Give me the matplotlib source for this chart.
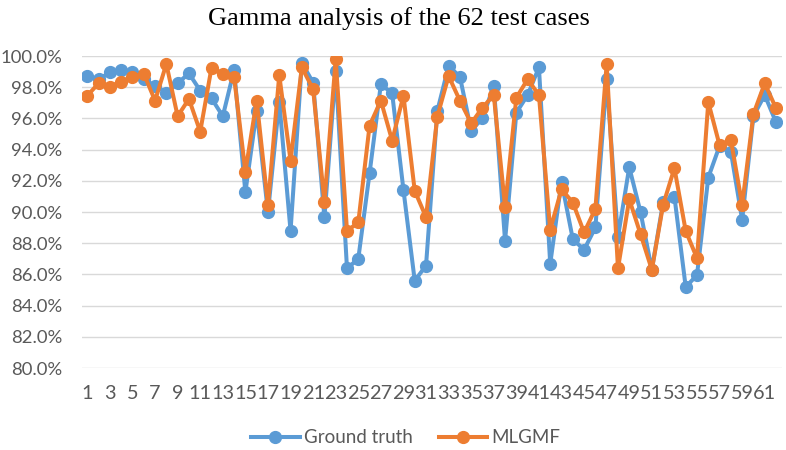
import matplotlib
matplotlib.use("Agg")
import matplotlib.pyplot as plt
from matplotlib.ticker import FuncFormatter

# gamma passing rates (%)
cases = list(range(1, 63))
ground_truth = [
    98.7, 98.5, 98.95, 99.08, 98.98, 98.5, 98.08, 97.65, 98.25, 98.89,
    97.78, 97.29, 96.14, 99.1, 91.27, 96.48, 89.97, 97.08, 88.79, 99.57,
    98.29, 89.65, 99.06, 86.38, 87.0, 92.49, 98.19, 97.61, 91.42, 85.59,
    86.57, 96.48, 99.36, 98.68, 95.22, 96.01, 98.1, 88.15, 96.37, 97.5,
    99.27, 86.68, 91.95, 88.26, 87.58, 89.01, 98.51, 88.39, 92.87, 89.99,
    86.3, 90.63, 90.99, 85.19, 85.96, 92.21, 94.24, 93.87, 89.5, 96.16,
    97.5, 95.75,
]
mlgmf = [
    97.46, 98.25, 98.04, 98.36, 98.66, 98.87, 97.14, 99.49, 96.14, 97.25,
    95.15, 99.25, 98.87, 98.66, 92.59, 97.14, 90.46, 98.78, 93.3, 99.27,
    97.87, 90.65, 99.79, 88.79, 89.33, 95.54, 97.14, 94.58, 97.46, 91.36,
    89.67, 96.12, 98.72, 97.14, 95.69, 96.69, 97.5, 90.35, 97.33, 98.51,
    97.5, 88.86, 91.46, 90.61, 88.69, 90.2, 99.49, 86.38, 90.82, 88.58,
    86.3, 90.46, 92.81, 88.79, 87.04, 97.05, 94.28, 94.62, 90.46, 96.29,
    98.25, 96.65,
]
series_names = ["Ground truth", "MLGMF"]
title = "Gamma analysis of the 62 test cases"

blue = "#5B9BD5"
orange = "#ED7D31"
grey_text = "#595959"

plt.rcParams["font.family"] = ["Lato", "DejaVu Sans"]

fig = plt.figure(figsize=(7.86, 4.5), dpi=100)
ax = fig.add_axes([0.1039, 0.1822, 0.8906, 0.6933])

ax.plot(cases, ground_truth, color=blue, lw=2.9, marker="o", ms=8.5,
        label=series_names[0], zorder=3)
ax.plot(cases, mlgmf, color=orange, lw=2.9, marker="o", ms=8.5,
        label=series_names[1], zorder=4)

ax.set_xlim(0.5, 62.5)
ax.set_ylim(80, 100)
ax.set_yticks(range(80, 101, 2))
ax.yaxis.set_major_formatter(FuncFormatter(lambda v, p: f"{v:.1f}%"))
ax.set_xticks(cases[::2])
ax.set_xticklabels([str(c) for c in cases[::2]])

ax.grid(axis="y", color="#D9D9D9", lw=1)
ax.set_axisbelow(True)
for s in ax.spines.values():
    s.set_visible(False)
ax.tick_params(axis="both", length=0, colors=grey_text)
ax.tick_params(axis="y", pad=14, labelsize=13.3)
ax.tick_params(axis="x", pad=12, labelsize=14.3)

fig.text(0.508, 0.985, title, ha="center", va="top",
         family="Liberation Serif", fontsize=19, color="black")

fig.legend(loc="center", bbox_to_anchor=(0.516, 0.027), ncol=2, frameon=False,
           fontsize=13.5, labelcolor=grey_text, handlelength=2.6,
           handletextpad=0.2, columnspacing=1.4, numpoints=1)

fig.savefig("out.png", dpi=100)
